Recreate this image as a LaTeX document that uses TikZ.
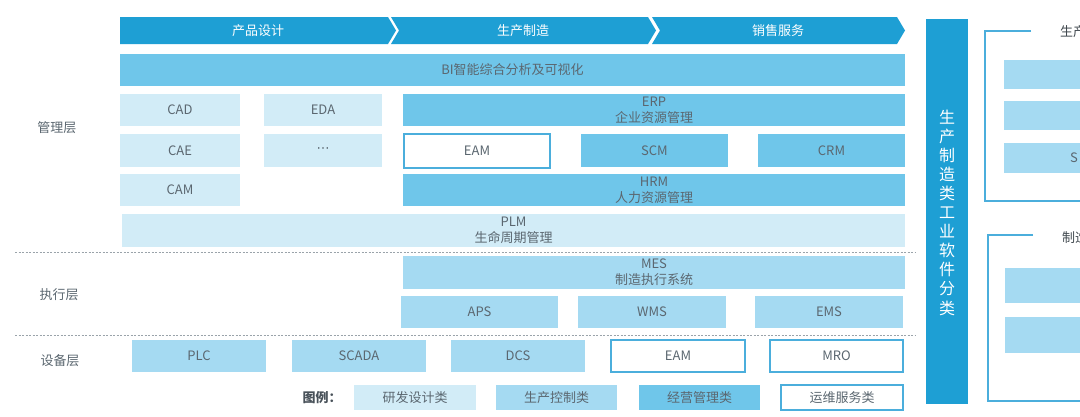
\documentclass[tikz,border=0pt]{standalone}
\usepackage{fontspec}
\setmainfont{Noto Sans CJK SC}
\newfontfamily\symfont{DejaVu Sans}
\definecolor{cDark}{HTML}{1E9FD4}
\definecolor{cBiz}{HTML}{6FC6EA}
\definecolor{cMid}{HTML}{A5DAF2}
\definecolor{cLight}{HTML}{D2ECF7}
\definecolor{cBorder}{HTML}{4BAEDC}
\definecolor{cText}{HTML}{5B6770}
\definecolor{cDash}{HTML}{9AA3AA}
\newcommand\BX[7]{\node[#1, minimum width={(#5-#3)*1pt}, minimum height={(#6-#4)*1pt}] (#2) at ({(#3+#5)/2},{(#4+#6)/2}) {#7};}
\begin{document}
\begin{tikzpicture}[x=1pt,y=-1pt,
  base/.style={inner sep=0pt, outer sep=0pt, align=center, text=cText, font=\fontsize{13}{16}\selectfont},
  rd/.style={base, fill=cLight},
  pc/.style={base, fill=cMid},
  mg/.style={base, fill=cBiz},
  ops/.style={base, fill=white, draw=cBorder, line width=1.5pt},
  band/.style={fill=cDark},
  bandtxt/.style={text=white, font=\fontsize{13}{16}\selectfont, inner sep=0pt},
  layer/.style={text=cText, font=\fontsize{13}{16}\selectfont, inner sep=0pt},
  sep/.style={draw=cDash, line width=0.9pt, dash pattern=on 2pt off 1.5pt},
  bracket/.style={draw=cBorder, line width=1.5pt},
]
\useasboundingbox (0,0) rectangle (1080,416);
\clip (0,0) rectangle (1080,416);
\fill[white] (0,0) rectangle (1080,416);

% process chevrons
\fill[band] (120,17) -- (388,17) -- (396,30.5) -- (388,44) -- (120,44) -- cycle;
\fill[band] (391,17) -- (648,17) -- (656,30.5) -- (648,44) -- (391,44) -- (399,30.5) -- cycle;
\fill[band] (652,17) -- (897,17) -- (905,30.5) -- (897,44) -- (652,44) -- (660,30.5) -- cycle;
\node[bandtxt] (p1) at (258,30.5) {产品设计};
\node[bandtxt] (p2) at (523,30.5) {生产制造};
\node[bandtxt] (p3) at (778,30.5) {销售服务};

% BI
\BX{mg}{bi}{120}{54}{905}{86}{BI智能综合分析及可视化}

% management layer
\BX{rd}{cad}{120}{94}{240}{126}{CAD}
\BX{rd}{eda}{264}{94}{382}{126}{EDA}
\BX{mg}{erp}{403}{94}{905}{126}{ERP\\企业资源管理}
\BX{rd}{cae}{120}{134}{240}{167}{CAE}
\BX{rd}{etc}{264}{134}{382}{167}{{\symfont ⋯}}
\BX{ops}{eam1}{404}{134}{550}{168}{EAM}
\BX{mg}{scm}{581}{134}{728}{167}{SCM}
\BX{mg}{crm}{758}{134}{905}{167}{CRM}
\BX{rd}{cam}{120}{174}{240}{206}{CAM}
\BX{mg}{hrm}{403}{174}{905}{206}{HRM\\人力资源管理}
\BX{rd}{plm}{122}{214}{905}{247}{PLM\\生命周期管理}

\coordinate (d1a) at (15,252);
\coordinate (d1b) at (915,252);
\draw[sep] (d1a) -- (d1b);

% execution layer
\BX{pc}{mes}{403}{256}{905}{289}{MES\\制造执行系统}
\BX{pc}{aps}{401}{296}{558}{328}{APS}
\BX{pc}{wms}{578}{296}{726}{328}{WMS}
\BX{pc}{ems}{755}{296}{903}{328}{EMS}

\coordinate (d2a) at (15,335);
\coordinate (d2b) at (915,335);
\draw[sep] (d2a) -- (d2b);

% device layer
\BX{pc}{plc}{132}{340}{266}{372}{PLC}
\BX{pc}{scada}{292}{340}{426}{372}{SCADA}
\BX{pc}{dcs}{451}{340}{585}{372}{DCS}
\BX{ops}{eam2}{611}{340}{745}{372}{EAM}
\BX{ops}{mro}{770}{340}{903}{372}{MRO}

% layer labels
\node[layer] (l1) at (57,128) {管理层};
\node[layer] (l2) at (59,295) {执行层};
\node[layer] (l3) at (60,361) {设备层};

% legend
\node[layer, text=cText!80!black, font=\fontsize{13}{16}\selectfont\bfseries] (lg) at (322,398) {图例：};
\BX{rd}{lg1}{354}{385}{476}{410}{研发设计类}
\BX{pc}{lg2}{496}{385}{617}{410}{生产控制类}
\BX{mg}{lg3}{639}{385}{760}{410}{经营管理类}
\BX{ops}{lg4}{781}{385}{903}{410}{运维服务类}

% vertical title bar
\fill[cDark] (926,19) rectangle (968,404);
\node[text=white, inner sep=0pt, align=center, font=\fontsize{16}{19.1}\selectfont] (vt) at (947,212.5)
  {生\\产\\制\\造\\类\\工\\业\\软\\件\\分\\类};

% right panels (cut off)
\coordinate (a1) at (1031,31);
\coordinate (a2) at (985,31);
\coordinate (a3) at (985,201);
\coordinate (a4) at (1090,201);
\draw[bracket] (a1) -- (a2) -- (a3) -- (a4);
\node[layer, anchor=west, text=cText!70!black] (t1) at (1060,32) {生产};
\BX{pc}{r1}{1004}{60}{1095}{89}{}
\BX{pc}{r2}{1004}{101}{1095}{130}{}
\BX{pc}{r3}{1004}{143}{1095}{173}{}
\node[layer, anchor=west] (s1) at (1070,158) {S};

\coordinate (b1) at (1033,235);
\coordinate (b2) at (988,235);
\coordinate (b3) at (988,401);
\coordinate (b4) at (1090,401);
\draw[bracket] (b1) -- (b2) -- (b3) -- (b4);
\node[layer, anchor=west, text=cText!70!black] (t2) at (1062,238) {制造};
\BX{pc}{r4}{1005}{268}{1095}{303}{}
\BX{pc}{r5}{1005}{317}{1095}{353}{}
\end{tikzpicture}
\end{document}
